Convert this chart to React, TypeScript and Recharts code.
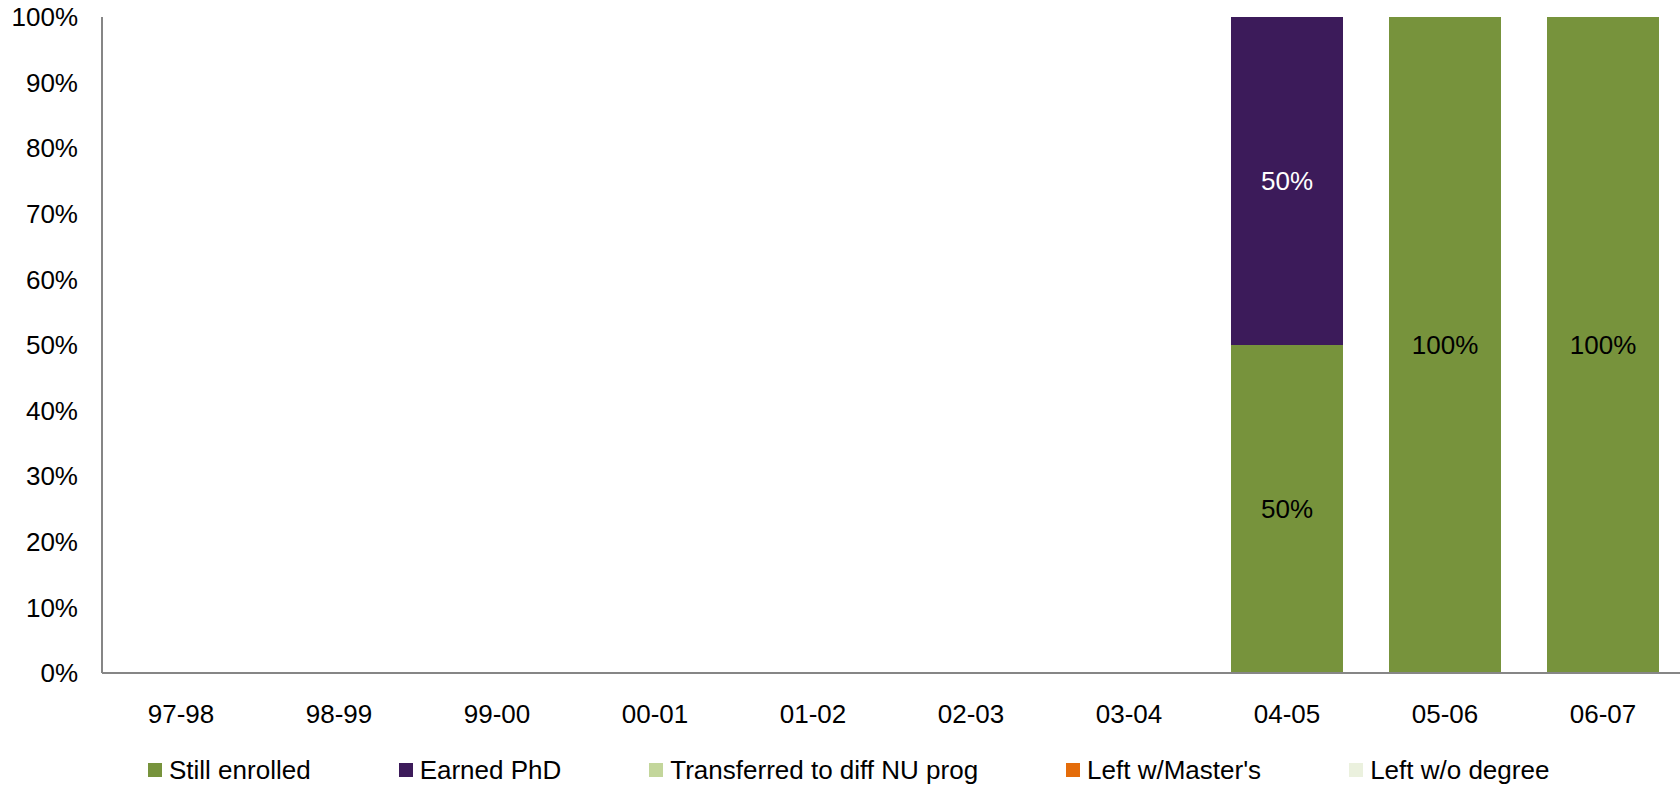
import React from 'react';
import { BarChart, Bar, XAxis, YAxis, Legend, LabelList } from 'recharts';

const categories = ['97-98', '98-99', '99-00', '00-01', '01-02', '02-03', '03-04', '04-05', '05-06', '06-07'];
const stillEnrolled = [0, 0, 0, 0, 0, 0, 0, 50, 100, 100];
const earnedPhD = [0, 0, 0, 0, 0, 0, 0, 50, 0, 0];
const transferred = [0, 0, 0, 0, 0, 0, 0, 0, 0, 0];
const leftMasters = [0, 0, 0, 0, 0, 0, 0, 0, 0, 0];
const leftNoDegree = [0, 0, 0, 0, 0, 0, 0, 0, 0, 0];
const yTicks = [0, 10, 20, 30, 40, 50, 60, 70, 80, 90, 100];

const seriesKeys = ['still', 'phd', 'transferred', 'masters', 'nodegree'];
const seriesNames = ['Still enrolled', 'Earned PhD', 'Transferred to diff NU prog', "Left w/Master's", 'Left w/o degree'];
const seriesColors = ['#77933C', '#3C1B5A', '#C3D69B', '#E46C0A', '#EBF1DE'];
const labelColors = ['#000000', '#FFFFFF', '#000000', '#000000', '#000000'];
const seriesValues = [stillEnrolled, earnedPhD, transferred, leftMasters, leftNoDegree];

const data = categories.map((c, i) => {
  const row: Record<string, any> = { name: c };
  seriesKeys.forEach((k, s) => {
    row[k] = seriesValues[s][i];
  });
  return row;
});

const FONT = '"Liberation Sans", Arial, sans-serif';

const renderLegend = (props: any) => {
  const payload = [...(props.payload || [])].sort(
    (a: any, b: any) => seriesNames.indexOf(a.value) - seriesNames.indexOf(b.value)
  );
  return (
    <div
      style={{
        display: 'flex',
        alignItems: 'center',
        height: 30,
        paddingLeft: 148,
        gap: 88,
        fontFamily: FONT,
        fontSize: 26,
        color: '#000',
        whiteSpace: 'nowrap',
      }}
    >
      {payload.map((p: any) => (
        <div key={p.value} style={{ display: 'flex', alignItems: 'center' }}>
          <span
            style={{
              display: 'inline-block',
              width: 14,
              height: 14,
              background: p.color,
              marginRight: 7,
            }}
          />
          <span>{p.value}</span>
        </div>
      ))}
    </div>
  );
};

export default function App() {
  return (
    <div style={{ position: 'absolute', left: 0, top: 0, width: 1680, height: 790, overflow: 'hidden', background: '#fff' }}>
      <BarChart
        width={1682}
        height={790}
        data={data}
        margin={{ top: 17, right: 0, bottom: 5, left: 0 }}
        barSize={112}
      >
        <XAxis
          dataKey="name"
          axisLine={{ stroke: '#868686', strokeWidth: 2 }}
          tickLine={false}
          tickSize={6}
          tickMargin={26}
          height={82}
          interval={0}
          tick={{ fill: '#000', fontSize: 26, fontFamily: FONT }}
        />
        <YAxis
          domain={[0, 100]}
          ticks={yTicks}
          width={102}
          axisLine={{ stroke: '#868686', strokeWidth: 2 }}
          tickLine={false}
          tickSize={6}
          tickMargin={18}
          tickFormatter={(v: number) => `${v}%`}
          tick={{ fill: '#000', fontSize: 26, fontFamily: FONT }}
          interval={0}
        />
        <Legend verticalAlign="bottom" align="left" content={renderLegend} />
        {seriesKeys.map((k, s) => (
          <Bar
            key={k}
            dataKey={k}
            name={seriesNames[s]}
            stackId="a"
            fill={seriesColors[s]}
            isAnimationActive={false}
          >
            <LabelList
              dataKey={k}
              position="center"
              formatter={(v: any) => (v ? `${v}%` : '')}
              style={{ fill: labelColors[s], fontSize: 26, fontFamily: FONT }}
            />
          </Bar>
        ))}
      </BarChart>
    </div>
  );
}
